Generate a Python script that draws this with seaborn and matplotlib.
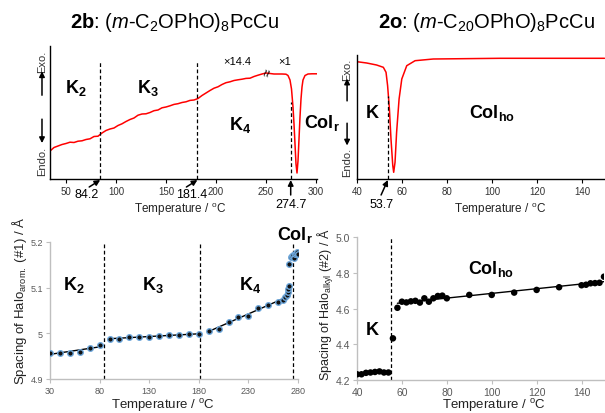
import numpy as np
import pandas as pd
import matplotlib
matplotlib.use('Agg')
import matplotlib.pyplot as plt
import seaborn as sns

sns.set_style('ticks')
plt.rcParams['font.family'] = ['Liberation Sans', 'DejaVu Sans']
plt.rcParams['mathtext.fontset'] = 'custom'
plt.rcParams['mathtext.rm'] = 'Liberation Sans'
plt.rcParams['mathtext.it'] = 'Liberation Sans:italic'
plt.rcParams['mathtext.bf'] = 'Liberation Sans:bold'
plt.rcParams['text.color'] = 'black'

# DSC trace of 2b (temperature / °C, heat flow in arbitrary units)
dsc_b_T = [34, 38, 42, 46, 50, 54, 58, 62, 66, 70, 74, 78, 82, 86, 90, 94, 98, 102,
           106, 110, 114, 118, 122, 126, 130, 134, 138, 142, 146, 150, 154, 158, 162,
           166, 170, 174, 178, 182, 186, 190, 194, 198, 202, 206, 210, 214, 218, 222,
           226, 230, 234, 238, 242, 246, 250, 254, 258, 262, 266, 270, 272, 274, 275.5,
           277, 278, 279, 280, 281, 282, 283, 284, 285, 286, 287, 289, 292, 296, 301]
dsc_b_flow = [28, 31.5, 33, 34.5, 35.5, 36.8, 36.5, 37.8, 38.2, 39.5, 40.2, 42.5, 42.8,
              46, 48.5, 50, 51, 53.5, 55.2, 57.5, 59.5, 61, 63.8, 65, 65.2, 66.5, 68.3,
              69, 71.2, 72, 73.2, 74.6, 75.3, 76.5, 77.2, 78.6, 79, 80.5, 83.5, 86, 88.5,
              90.8, 92.2, 94.5, 96.3, 97.2, 98.5, 99.2, 99.8, 100.6, 100.8, 102.5, 103.8,
              105, 106, 105.5, 105, 105, 105, 104.8, 103.5, 99, 90, 72, 55, 35, 15, 6,
              18, 40, 62, 80, 92, 99, 103.5, 105, 105.2, 105.2]

# DSC trace of 2o
dsc_o_T = [40, 44.3, 48.7, 51.7, 52.9, 53.6, 54.4, 55.1, 55.9, 56.3, 56.9, 57.6,
           58.7, 59.9, 62.1, 65.8, 73.9, 103.6, 150]
dsc_o_flow = [117.3, 116, 114, 111.7, 106.7, 93.3, 70, 40, 13.3, 6.7, 16.7, 46.7,
              80, 100, 113.3, 118.3, 120, 120.7, 120.7]

# Halo(arom.) spacing of 2b
arom_T = [30, 40, 50, 60, 70, 80,
          90, 100, 110, 120, 130, 140, 150, 160, 170, 180,
          190, 200, 210, 220, 230, 240, 250, 259.4, 264.4, 266.8, 268.5, 269.5, 270.2, 270.8,
          271.3, 273, 274, 275, 276, 277, 278, 279, 280]
arom_d = [4.958, 4.956, 4.958, 4.960, 4.967, 4.974,
          4.988, 4.988, 4.992, 4.992, 4.993, 4.994, 4.996, 4.997, 4.998, 4.998,
          5.006, 5.009, 5.025, 5.035, 5.039, 5.056, 5.063, 5.068, 5.074, 5.079, 5.085,
          5.091, 5.097, 5.103,
          5.152, 5.168, 5.170, 5.172, 5.166, 5.174, 5.176, 5.178, 5.173]
arom_phase = ['K2'] * 6 + ['K3'] * 10 + ['K4'] * 14 + ['Colr'] * 9

# Halo(alkyl) spacing of 2o
alkyl_T = [40, 42, 44, 46, 48, 50, 52, 54,
           56,
           58, 60, 62, 64, 66, 68, 70, 72, 74, 76, 78, 80, 90, 100, 110, 120, 130,
           140, 142, 144, 146, 148, 150]
alkyl_d = [4.232, 4.232, 4.240, 4.242, 4.245, 4.248, 4.242, 4.242,
           4.433,
           4.604, 4.638, 4.634, 4.640, 4.643, 4.633, 4.657, 4.638, 4.657, 4.670, 4.672,
           4.657, 4.676, 4.676, 4.689, 4.704, 4.719, 4.730, 4.733, 4.741, 4.742, 4.744,
           4.778]
alkyl_phase = ['K'] * 8 + ['trans'] + ['Colho'] * 23

arom = pd.DataFrame({'T': arom_T, 'd': arom_d, 'phase': arom_phase})
alkyl = pd.DataFrame({'T': alkyl_T, 'd': alkyl_d, 'phase': alkyl_phase})

W, H = 605, 414
fig = plt.figure(figsize=(W / 100, H / 100), dpi=100)


def fx(x):
    return x / W


def fy(y):
    return 1 - y / H


def ftext(x, y, s, **kw):
    kw.setdefault('ha', 'center')
    kw.setdefault('va', 'center')
    kw.setdefault('color', 'black')
    fig.text(fx(x), fy(y), s, **kw)


ax1 = fig.add_axes([fx(50), fy(180), fx(267), 133 / H])
ax2 = fig.add_axes([fx(357), fy(180), fx(248), 124 / H])
ax3 = fig.add_axes([fx(50), fy(380), fx(248), 137 / H])
ax4 = fig.add_axes([fx(357), fy(381), fx(247), 143 / H])

dash = (0, (3, 2))
arr = dict(arrowstyle='-|>', color='black', lw=1.1, mutation_scale=8, shrinkA=0, shrinkB=0)

# ---- top left: DSC 2b
sns.lineplot(x=dsc_b_T, y=dsc_b_flow, ax=ax1, color='red', lw=1.1)
ax1.set_xlim(34, 301)
ax1.set_ylim(0, 133)
for t, top in [(84.2, 117), (181.4, 117), (274.7, 77)]:
    ax1.plot([t, t], [0, top], color='black', lw=0.9, ls=dash)
ax1.set_xticks([50, 100, 150, 200, 250, 300])
ax1.set_yticks([])
for t, dx, lab in [(84.2, -11, (70.5, -15)), (181.4, -11, (176, -15))]:
    ax1.annotate('', xy=(t, -1), xytext=(t + dx, -8), annotation_clip=False, arrowprops=arr)
    ax1.text(lab[0], lab[1], f'{t}', ha='center', va='center', fontsize=9, clip_on=False)
ax1.annotate('', xy=(274.7, -1), xytext=(274.7, -16), annotation_clip=False, arrowprops=arr)
ax1.text(274.7, -25, '274.7', ha='center', va='center', fontsize=9, clip_on=False)
ax1.text(221, 118, '×14.4', ha='center', va='center', fontsize=8)
ax1.text(269, 118, '×1', ha='center', va='center', fontsize=8)
ax1.text(252, 107, '≈', ha='center', va='center', fontsize=10, rotation=75)

# ---- top right: DSC 2o
sns.lineplot(x=dsc_o_T, y=dsc_o_flow, ax=ax2, color='red', lw=1.1)
ax2.set_xlim(40, 150.2)
ax2.set_ylim(0, 124)
ax2.plot([53.7, 53.7], [0, 83], color='black', lw=0.9, ls=dash)
ax2.set_xticks([40, 60, 80, 100, 120, 140])
ax2.set_yticks([])
ax2.annotate('', xy=(53.7, -1), xytext=(50.7, -16), annotation_clip=False, arrowprops=arr)
ax2.text(51, -25, '53.7', ha='center', va='center', fontsize=9, clip_on=False)

for ax, xe in [(ax1, -0.03), (ax2, -0.04)]:
    sns.despine(ax=ax)
    for s in ['left', 'bottom']:
        ax.spines[s].set_color('black')
        ax.spines[s].set_linewidth(1.0)
    ax.tick_params(axis='x', direction='out', length=3, width=0.8, color='black',
                   labelsize=7, labelcolor='#333333', pad=2)
    ax.set_xlabel('')
    ax.set_ylabel('')
    ax.text(xe, 0.89, 'Exo.', transform=ax.transAxes, rotation=90, fontsize=8,
            ha='center', va='center', color='#333333')
    ax.text(xe, 0.14, 'Endo.', transform=ax.transAxes, rotation=90, fontsize=8,
            ha='center', va='center', color='#333333')
    ax.annotate('', xy=(xe, 0.81), xytext=(xe, 0.63), xycoords='axes fraction',
                arrowprops=arr)
    ax.annotate('', xy=(xe, 0.27), xytext=(xe, 0.45), xycoords='axes fraction',
                arrowprops=arr)

# ---- bottom left: Halo(arom.) spacing
for ph in ['K2', 'K3', 'K4']:
    sub = arom[(arom.phase == ph) & (arom['T'] < 267)]
    sns.regplot(data=sub, x='T', y='d', ax=ax3, scatter=False, ci=None,
                line_kws=dict(color='black', lw=1.0))
sns.scatterplot(data=arom, x='T', y='d', ax=ax3, color='#111111', s=16,
                edgecolor='#6fa8dc', linewidth=1.0, zorder=3)
ax3.set_xlim(30, 280)
ax3.set_ylim(4.9, 5.2)
ax3.set_xticks([30, 80, 130, 180, 230, 280])
ax3.set_yticks([4.9, 5.0, 5.1, 5.2])
ax3.set_yticklabels(['4.9', '5', '5.1', '5.2'])
for t in [84.2, 181.4, 274.7]:
    ax3.axvline(t, color='black', lw=0.9, ls=dash)

# ---- bottom right: Halo(alkyl) spacing
sns.regplot(data=alkyl[alkyl.phase == 'Colho'], x='T', y='d', ax=ax4, scatter=False,
            ci=None, line_kws=dict(color='black', lw=1.0))
sns.scatterplot(data=alkyl, x='T', y='d', ax=ax4, color='black', s=22,
                edgecolor='none', zorder=3)
ax4.set_xlim(40, 150)
ax4.set_ylim(4.2, 5.0)
ax4.set_xticks([40, 60, 80, 100, 120, 140])
ax4.set_yticks([4.2, 4.4, 4.6, 4.8, 5.0])
ax4.set_yticklabels(['4.2', '4.4', '4.6', '4.8', '5.0'])
ax4.axvline(55, color='black', lw=0.9, ls=dash)

for ax, fs in [(ax3, 6.5), (ax4, 7.5)]:
    sns.despine(ax=ax)
    for s in ['left', 'bottom']:
        ax.spines[s].set_color('#bfbfbf')
        ax.spines[s].set_linewidth(1.0)
    ax.tick_params(direction='out', length=3, width=0.8, color='#bfbfbf',
                   labelsize=fs, labelcolor='#595959', pad=2)
    ax.set_xlabel('')
    ax.set_ylabel('')

# ---- texts
ftext(174, 22, r'$\mathbf{2b}$: ($m$-C$_2$OPhO)$_8$PcCu', fontsize=14.5)
ftext(486, 22, r'$\mathbf{2o}$: ($m$-C$_{20}$OPhO)$_8$PcCu', fontsize=14.5)

tlab = r'Temperature / $^\mathregular{o}$C'
ftext(180, 210, tlab, fontsize=8.5, color='#222222')
ftext(500, 210, tlab, fontsize=8.5, color='#222222')
ftext(163, 406, tlab, fontsize=9.5, color='#222222')
ftext(494, 405, tlab, fontsize=9.5, color='#222222')

ftext(20, 301, r'Spacing of Halo$_\mathregular{arom.}$ (#1) / Å', fontsize=9.5,
      rotation=90, color='#222222')
ftext(326, 305, r'Spacing of Halo$_\mathregular{alkyl}$ (#2) / Å', fontsize=9,
      rotation=90, color='#222222')

ph_kw = dict(fontsize=13)
ftext(76, 88, r'$\mathbf{K_2}$', **ph_kw)
ftext(148, 88, r'$\mathbf{K_3}$', **ph_kw)
ftext(240, 125, r'$\mathbf{K_4}$', **ph_kw)
ftext(322, 123, r'$\mathbf{Col_r}$', **ph_kw)
ftext(372, 114, r'$\mathbf{K}$', **ph_kw)
ftext(492, 113, r'$\mathbf{Col_{ho}}$', **ph_kw)
ftext(74, 285, r'$\mathbf{K_2}$', **ph_kw)
ftext(153, 285, r'$\mathbf{K_3}$', **ph_kw)
ftext(250, 285, r'$\mathbf{K_4}$', **ph_kw)
ftext(295, 235, r'$\mathbf{Col_r}$', **ph_kw)
ftext(372, 331, r'$\mathbf{K}$', **ph_kw)
ftext(491, 269, r'$\mathbf{Col_{ho}}$', **ph_kw)

fig.savefig('out.png', dpi=100)
